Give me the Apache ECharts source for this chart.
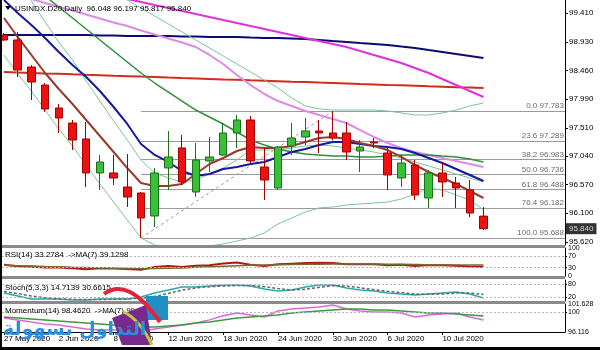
<!DOCTYPE html>
<html><head><meta charset="utf-8">
<script src="https://cdn.jsdelivr.net/npm/echarts@6/dist/echarts.min.js"></script>
<style>html,body{margin:0;padding:0;background:#fff}#c{width:600px;height:350px}</style>
</head><body><div id="c"></div>
<script>
const dates = ['27 May 2020','28 May 2020','29 May 2020','1 Jun 2020','2 Jun 2020','3 Jun 2020','4 Jun 2020','5 Jun 2020','8 Jun 2020','9 Jun 2020','10 Jun 2020','11 Jun 2020','12 Jun 2020','15 Jun 2020','16 Jun 2020','17 Jun 2020','18 Jun 2020','19 Jun 2020','22 Jun 2020','23 Jun 2020','24 Jun 2020','25 Jun 2020','26 Jun 2020','29 Jun 2020','30 Jun 2020','1 Jul 2020','2 Jul 2020','3 Jul 2020','6 Jul 2020','7 Jul 2020','8 Jul 2020','9 Jul 2020','10 Jul 2020','13 Jul 2020','14 Jul 2020','15 Jul 2020'];
const open  = [99.046,98.963,98.516,98.218,97.838,97.589,97.325,96.762,96.762,96.530,96.431,96.050,96.845,97.176,96.447,96.961,97.060,97.424,97.639,96.861,96.514,97.209,97.358,97.457,97.424,97.424,97.126,97.275,97.093,96.679,96.894,96.348,96.762,96.596,96.481,96.048];
const close = [98.963,98.467,98.268,97.821,97.672,97.308,96.762,96.944,96.679,96.365,96.017,96.762,97.027,96.613,96.977,97.027,97.424,97.639,96.961,96.646,97.192,97.341,97.457,97.424,97.341,97.109,97.192,97.258,96.729,96.927,96.398,96.762,96.613,96.514,96.100,95.840];
const low   = [98.947,98.351,97.970,97.771,97.424,97.143,96.530,96.481,96.563,96.199,95.688,95.868,96.481,96.563,96.365,96.778,97.043,97.176,96.927,96.315,96.481,97.060,97.225,97.093,97.308,96.977,96.778,97.176,96.481,96.530,96.315,96.183,96.365,96.183,96.034,95.817];
const high  = [99.079,99.096,98.549,98.251,97.904,97.639,97.606,97.060,97.060,97.076,96.447,96.845,97.457,97.391,97.258,97.358,97.589,97.722,97.705,97.176,97.209,97.589,97.672,97.639,97.783,97.606,97.308,97.341,97.176,97.060,96.977,96.812,96.944,96.696,96.646,96.197];

const maNavy   = [99.046,99.046,99.046,99.046,99.046,99.046,99.046,99.037,99.037,99.029,99.029,99.029,99.029,99.021,99.021,99.013,99.013,99.013,99.004,98.996,98.996,98.988,98.980,98.963,98.946,98.930,98.913,98.897,98.880,98.855,98.831,98.797,98.764,98.731,98.698,98.665];
const maRed    = [98.433,98.425,98.417,98.410,98.404,98.395,98.387,98.380,98.372,98.365,98.357,98.351,98.342,98.334,98.327,98.319,98.311,98.304,98.296,98.289,98.281,98.273,98.266,98.258,98.251,98.243,98.235,98.228,98.220,98.213,98.205,98.197,98.190,98.182,98.176,98.169];
const maMagenta= [100.088,100.039,99.989,99.939,99.890,99.840,99.791,99.741,99.691,99.642,99.592,99.542,99.493,99.443,99.393,99.344,99.294,99.244,99.195,99.145,99.095,99.046,98.996,98.946,98.897,98.847,98.781,98.715,98.648,98.582,98.500,98.417,98.317,98.218,98.119,98.020];
const maViolet = [99.774,99.708,99.642,99.575,99.509,99.451,99.385,99.319,99.253,99.195,99.120,99.054,98.988,98.922,98.847,98.715,98.566,98.384,98.218,98.069,97.953,97.871,97.788,97.722,97.655,97.589,97.473,97.358,97.258,97.175,97.109,97.060,97.010,96.960,96.911,96.861];
const maGreen  = [100.237,100.055,99.873,99.691,99.509,99.327,99.145,98.963,98.781,98.599,98.417,98.251,98.102,97.953,97.804,97.689,97.573,97.440,97.308,97.225,97.159,97.109,97.076,97.060,97.043,97.043,97.027,97.027,97.043,97.060,97.060,97.060,97.043,97.027,96.993,96.944];
const maBlue   = [99.625,99.410,99.211,98.996,98.764,98.549,98.351,98.119,97.854,97.573,97.242,97.060,96.944,96.795,96.712,96.745,96.828,96.861,96.911,96.944,97.027,97.109,97.159,97.225,97.275,97.275,97.242,97.209,97.192,97.159,97.093,97.010,96.927,96.828,96.729,96.629];
const maBrown  = [99.327,99.013,98.715,98.417,98.152,97.904,97.639,97.374,97.109,96.844,96.596,96.547,96.547,96.580,96.745,96.911,97.010,97.126,97.192,97.176,97.176,97.209,97.275,97.341,97.358,97.325,97.258,97.209,97.142,97.027,96.894,96.778,96.679,96.580,96.464,96.348];
const maThin   = [100.254,99.906,99.608,99.261,98.930,98.632,98.284,97.953,97.622,97.308,96.977,96.762,96.679,96.613,96.646,96.745,96.844,96.977,97.142,97.142,97.142,97.176,97.209,97.225,97.209,97.176,97.142,97.109,97.060,97.010,96.944,96.878,96.811,96.745,96.679,96.613];
const bbLower  = [98.715,98.400,98.119,97.804,97.490,97.209,96.894,96.580,96.282,95.984,95.686,95.570,95.520,95.520,95.537,95.553,95.587,95.636,95.686,95.769,95.918,96.017,96.116,96.183,96.199,96.232,96.249,96.265,96.282,96.331,96.414,96.513,96.480,96.398,96.315,96.149];
const bbUpper  = [100.949,100.784,100.618,100.453,100.287,100.122,99.956,99.824,99.708,99.625,99.493,99.360,99.228,99.095,98.963,98.831,98.698,98.566,98.433,98.301,98.168,98.003,97.871,97.821,97.804,97.804,97.804,97.804,97.788,97.755,97.722,97.722,97.755,97.804,97.871,97.920];

const fibLevels = [97.783,97.289,96.983,96.736,96.488,96.182,95.688];
const fibNames  = ['0.0','23.6','38.2','50.0','61.8','76.4','100.0'];
const priceTicks = [95.620,96.100,96.570,97.040,97.510,97.990,98.460,98.930,99.410];
const dateTicks = [0,4,8,12,16,20,24,28,32];

const rsi   = [40,35,33,30,30,28,24,28,27,25,22,32,36,32,37,38,45,48,40,36,42,44,46,47,46,42,42,42,38,40,36,39,38,37,34,33.2784];
const rsiMa = [38,37,36,34,33,31,30,29,28,27,26,27,28,29,31,33,35,37,38,39,40,41,42,42,43,43,43,43,42,42,41,40,40,39.5,39.3,39.1298];
const stochK = [38,24,10,10,10,5,5,10,10,10,19,38,52,67,67,71,76,76,71,57,48,52,67,76,76,62,52,48,38,33,29,33,38,43,33,14.7139];
const stochD = [45,35,24,15,10,8,7,7,8,10,13,22,36,52,62,68,71,74,74,68,59,52,56,65,73,71,63,54,46,40,33,32,33,38,38,30.6615];
const mom   = [98.87,98.5,98.1,97.7,97.5,97.1,96.7,96.5,96.5,96.3,96.3,96.7,97.1,97.5,97.9,98.5,99.3,99.86,99.46,99.07,100.25,100.64,100.84,101.04,101.43,100.64,100.25,100.05,100.05,99.86,99.07,99.46,99.66,99.86,99.07,98.462];
const momMa = [99.069,98.872,98.675,98.478,98.281,98.085,97.888,97.691,97.494,97.297,97.100,97.100,97.297,97.494,97.888,98.085,98.478,98.872,99.069,99.266,99.463,99.856,100.053,100.250,100.447,100.644,100.644,100.447,100.447,100.250,100.053,99.856,99.856,99.659,99.463,99.266];

const FONT = 'Liberation Sans';
const XMIN = -0.146, XMAX = 40.95;
const pts = arr => arr.map((v, i) => [i, v]);
const candles = open.map((o, i) => [i, o, close[i], low[i], high[i]]);
const lastClose = close[close.length - 1];

const chart = echarts.init(document.getElementById('c'), null, {renderer: 'canvas'});
const grids = [
  {left: 2, right: 35, top: 0, height: 245},
  {left: 2, right: 35, top: 248, height: 28},
  {left: 2, right: 35, top: 280, height: 21},
  {left: 2, right: 35, top: 304, height: 28}
];
const xAxes = grids.map((g, k) => ({
  type: 'value', gridIndex: k, min: XMIN, max: XMAX,
  splitLine: {show: false},
  axisLine: {show: k === 3, lineStyle: {color: '#000', width: 1}},
  axisTick: k === 3 ? {show: true, customValues: dateTicks, length: 3, lineStyle: {color: '#000'}} : {show: false},
  axisLabel: k === 3 ? {show: true, customValues: dateTicks, formatter: v => dates[v], align: 'left', margin: 3, fontSize: 8, fontFamily: FONT, color: '#000'} : {show: false}
}));
const yBase = {position: 'right', splitLine: {show: false}, axisLine: {show: true, onZero: false, lineStyle: {color: '#000'}}};
const yAxes = [
  Object.assign({}, yBase, {gridIndex: 0, min: 95.570, max: 99.625,
    axisTick: {show: true, customValues: priceTicks, length: 3, lineStyle: {color: '#000'}},
    axisLabel: {customValues: priceTicks, formatter: v => v.toFixed(3), fontSize: 8, fontFamily: FONT, color: '#000', margin: 4}}),
  Object.assign({}, yBase, {gridIndex: 1, min: 0, max: 100,
    axisTick: {show: true, customValues: [30,70], length: 2, lineStyle: {color: '#000'}},
    axisLabel: {customValues: [0,30,70,100], fontSize: 7, fontFamily: FONT, color: '#000', margin: 3}}),
  Object.assign({}, yBase, {gridIndex: 2, min: 0, max: 100,
    axisTick: {show: true, customValues: [20,80], length: 2, lineStyle: {color: '#000'}},
    axisLabel: {customValues: [0,20,80,100], fontSize: 7, fontFamily: FONT, color: '#000', margin: 3}}),
  Object.assign({}, yBase, {gridIndex: 3, min: 96.116, max: 101.628,
    axisTick: {show: true, customValues: [100], length: 2, lineStyle: {color: '#000'}},
    axisLabel: {customValues: [96.116, 100, 101.628], formatter: v => (v === 100 ? '100' : v.toFixed(3)), fontSize: 7, fontFamily: FONT, color: '#000', margin: 3}})
];

function lineS(data, color, width, k, extra) {
  return Object.assign({type: 'line', data: pts(data), xAxisIndex: k, yAxisIndex: k, showSymbol: false, symbol: 'none',
    lineStyle: {color: color, width: width}, silent: true, animation: false, clip: true, z: 2}, extra || {});
}
function levelLine(v) {
  return [{coord: [XMIN, v]}, {coord: [XMAX, v]}];
}

const fibMark = fibLevels.map((v, i) => [
  {coord: [10, v], label: {formatter: fibNames[i] + ' ' + v.toFixed(3)}},
  {coord: [XMAX, v]}
]);

const series = [
  lineS(maNavy, '#0b0b6e', 2, 0),
  lineS(maRed, '#d42a1e', 2, 0),
  lineS(maMagenta, '#e030e0', 2, 0),
  lineS(maViolet, '#dc8ae6', 2, 0),
  lineS(bbUpper, '#7cc49a', 1, 0),
  lineS(bbLower, '#7cc49a', 1, 0),
  lineS(maThin, '#7cc49a', 1, 0),
  lineS(maGreen, '#2f8f3a', 1.5, 0),
  lineS(maBlue, '#1717a0', 2, 0),
  lineS(maBrown, '#9a3a2a', 2, 0),
  {type: 'line', xAxisIndex: 0, yAxisIndex: 0, data: [[10, low[10]], [24, high[24]]], showSymbol: false, symbol: 'none',
    lineStyle: {color: '#9a9a9a', width: 1, type: [3, 3]}, silent: true, animation: false, z: 1},
  {type: 'candlestick', xAxisIndex: 0, yAxisIndex: 0, data: candles, barWidth: 8, z: 5, animation: false,
    encode: {x: 0, y: [1, 2, 3, 4]},
    itemStyle: {color: '#38c038', color0: '#ee1111', borderColor: '#1d6e1d', borderColor0: '#a00000', borderWidth: 1},
    markLine: {silent: true, symbol: ['none', 'none'], animation: false, z: 1,
      lineStyle: {color: '#9a9a9a', width: 1, type: 'solid'},
      label: {position: 'insideEndTop', distance: [1, 1], fontSize: 8, fontFamily: FONT, color: '#6a6a6a'},
      data: fibMark
    }},
  {type: 'scatter', xAxisIndex: 0, yAxisIndex: 0, data: [[XMAX, lastClose]], symbolSize: 0, silent: true, animation: false, z: 30, clip: false,
    label: {show: true, position: 'right', distance: 1, formatter: lastClose.toFixed(3), color: '#fff', backgroundColor: '#000',
      padding: [2, 3, 1, 3], fontSize: 8, fontFamily: FONT}},
  // RSI
  lineS(rsi, '#b01818', 2, 1, {markLine: {silent: true, symbol: ['none','none'], label: {show: false}, animation: false,
    lineStyle: {color: '#b8b8b8', width: 1, type: [2, 2]}, data: [levelLine(70), levelLine(30)]}}),
  lineS(rsiMa, '#7a6a30', 1.5, 1),
  // Stoch
  lineS(stochK, '#2aa8b0', 1.5, 2, {markLine: {silent: true, symbol: ['none','none'], label: {show: false}, animation: false,
    lineStyle: {color: '#b8b8b8', width: 1, type: [2, 2]}, data: [levelLine(80), levelLine(20)]}}),
  lineS(stochD, '#666666', 1.5, 2, {lineStyle: {color: '#666', width: 1.5, type: [3, 2]}}),
  // Momentum
  lineS(mom, '#de66de', 1.5, 3, {markLine: {silent: true, symbol: ['none','none'], label: {show: false}, animation: false,
    lineStyle: {color: '#b8b8b8', width: 1, type: [2, 2]}, data: [levelLine(100)]}}),
  lineS(momMa, '#3c9a3c', 1.5, 3)
];

const txt = (x, y, t, size, color, extra) => Object.assign({type: 'text', x: x, y: y, z: 50,
  style: {text: t, fill: color || '#000', font: (size || 8) + 'px "' + FONT + '"', textVerticalAlign: 'middle'}}, extra || {});
const sep = (y, h) => ({type: 'rect', z: 40, shape: {x: 0, y: y, width: 565, height: h}, style: {fill: '#8a8a8a'}});

const graphic = [
  sep(245, 3), sep(276, 3), sep(301, 3),
  {type: 'rect', z: 60, shape: {x: 0, y: 0, width: 2, height: 350}, style: {fill: '#000'}},
  {type: 'rect', z: 60, shape: {x: 0, y: 347, width: 600, height: 3}, style: {fill: '#000'}},
  {type: 'polygon', z: 50, shape: {points: [[5, 6], [11, 6], [8, 10]]}, style: {fill: '#000'}},
  txt(15, 9, 'USINDX.D20,Daily  96.048 96.197 95.817 95.840', 8, '#000'),
  txt(5, 255, 'RSI(14) 33.2784  ->MA(7) 39.1298', 8, '#000'),
  txt(5, 288, 'Stoch(5,3,3) 14.7139 30.6615', 8, '#000'),
  txt(5, 311, 'Momentum(14) 98.4620  ->MA(7) 99.2791', 8, '#000'),
  // watermark logo
  {type: 'bezierCurve', z: 70, shape: {x1: 104, y1: 294, cpx1: 128, cpy1: 276, x2: 160, y2: 322}, style: {stroke: '#e5223a', lineWidth: 4, fill: null}},
  {type: 'polygon', z: 69, shape: {points: [[112, 318], [146, 305], [152, 345], [122, 345]]}, style: {fill: '#7a2a8c'}},
  {type: 'rect', z: 68, shape: {x: 146, y: 296, width: 22, height: 24}, style: {fill: '#1f8fc6'}},
  {type: 'bezierCurve', z: 71, shape: {x1: 124, y1: 312, cpx1: 140, cpy1: 320, x2: 152, y2: 345}, style: {stroke: '#b9cf3a', lineWidth: 3, fill: null}},
  {type: 'text', z: 72, x: 3, y: 330, style: {text: 'التداول بسهولة', fill: '#2a8fe0', font: 'bold 19px "DejaVu Sans"', textVerticalAlign: 'middle'}}
];

chart.setOption({
  animation: false,
  backgroundColor: '#fff',
  grid: grids,
  xAxis: xAxes,
  yAxis: yAxes,
  series: series,
  graphic: graphic
});
</script>
</body></html>
